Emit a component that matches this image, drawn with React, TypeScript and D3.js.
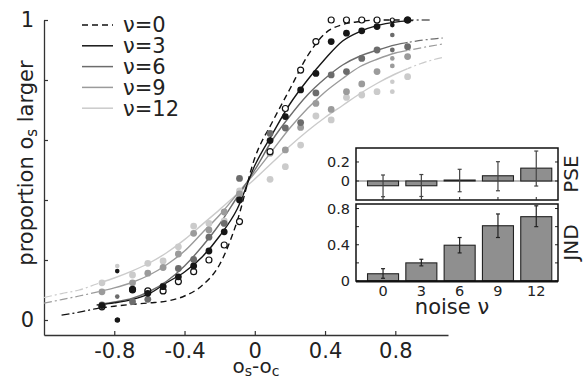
import React, { useEffect, useRef } from 'react';
import * as d3 from 'd3';

// noise levels
const nuLevels = [0, 3, 6, 9, 12];

// stimulus positions (os - oc)
const stimX = [-0.87, -0.783, -0.696, -0.609, -0.522, -0.435, -0.348, -0.261, -0.174, -0.087,
  0.087, 0.174, 0.261, 0.348, 0.435, 0.522, 0.609, 0.696, 0.783, 0.87];

// observed proportions per noise level
const propNu0 = [0.044, 0.0, 0.102, 0.097, 0.097, 0.128, 0.161, 0.2, 0.25, 0.328,
  0.561, 0.705, 0.833, 0.928, 1.0, 1.0, 1.0, 1.0, 1.0, 1.0];
const propNu3 = [0.048, 0.163, 0.1, 0.089, 0.111, 0.144, 0.18, 0.23, 0.294, 0.4,
  0.598, 0.678, 0.767, 0.822, 0.928, 0.956, 0.964, 0.978, 0.983, 1.0];
const propNu6 = [0.05, 0.078, 0.061, 0.069, 0.113, 0.172, 0.202, 0.276, 0.322, 0.472,
  0.622, 0.64, 0.658, 0.757, 0.817, 0.828, 0.872, 0.9, 0.95, 0.911];
const propNu9 = [0.094, 0.0, 0.124, 0.156, 0.175, 0.22, 0.289, 0.3, 0.36, 0.42,
  0.556, 0.567, 0.642, 0.722, 0.702, 0.761, 0.787, 0.828, 0.872, 0.878];
const propNu12 = [0.124, 0.18, 0.15, 0.189, 0.197, 0.244, 0.313, 0.322, 0.33, 0.43,
  0.469, 0.511, 0.583, 0.68, 0.667, 0.742, 0.75, 0.761, 0.794, 0.811];

// a few extra small dots
const extraNu = [6, 9, 12, 3];
const extraX = [0.783, 0.783, 0.783, -0.78];
const extraY = [0.9, 0.847, 0.761, 0.0];

// fitted curves
const curveX = [-1.2, -1.1, -1.0, -0.9, -0.8, -0.7, -0.6, -0.5, -0.4, -0.3, -0.2, -0.1,
  0, 0.1, 0.2, 0.3, 0.4, 0.5, 0.6, 0.7, 0.8, 0.9, 1.0, 1.07];
const fitNu0 = [null, 0.016, 0.026, 0.038, 0.046, 0.052, 0.057, 0.063, 0.08, 0.115, 0.185, 0.33,
  0.54, 0.66, 0.77, 0.88, 0.955, 0.985, 0.995, 1.0, 1.0, 1.0, 1.0, null];
const fitNu3 = [null, null, null, 0.05, 0.057, 0.068, 0.088, 0.125, 0.16, 0.21, 0.28, 0.37,
  0.515, 0.62, 0.72, 0.8, 0.87, 0.93, 0.962, 0.982, 0.993, 0.998, null, null];
const fitNu6 = [null, null, null, 0.05, 0.06, 0.072, 0.095, 0.13, 0.18, 0.245, 0.32, 0.41,
  0.5, 0.6, 0.68, 0.75, 0.805, 0.85, 0.88, 0.9, 0.917, 0.928, 0.936, 0.94];
const fitNu9 = [0.056, 0.068, 0.08, 0.093, 0.107, 0.125, 0.15, 0.185, 0.23, 0.29, 0.35, 0.42,
  0.49, 0.565, 0.64, 0.705, 0.76, 0.805, 0.845, 0.87, 0.89, 0.902, 0.913, 0.92];
const fitNu12 = [0.075, 0.088, 0.1, 0.12, 0.14, 0.163, 0.19, 0.225, 0.268, 0.318, 0.368, 0.42,
  0.47, 0.525, 0.58, 0.63, 0.675, 0.715, 0.755, 0.79, 0.82, 0.845, 0.865, 0.875];

// inset: PSE and JND per noise level
const pseMean = [-0.05, -0.05, 0.01, 0.055, 0.135];
const pseLow = [-0.165, -0.163, -0.113, -0.103, -0.053];
const pseHigh = [0.063, 0.068, 0.123, 0.203, 0.315];
const jndMean = [0.08, 0.2, 0.395, 0.61, 0.71];
const jndLow = [0.03, 0.167, 0.31, 0.48, 0.6];
const jndHigh = [0.136, 0.24, 0.48, 0.74, 0.83];

const FONT = 'DejaVu Sans';

const App = () => {
  const svgRef = useRef<SVGSVGElement>(null);

  useEffect(() => {
    const svg = d3.select(svgRef.current);
    svg.selectAll('*').remove();

    const series = [
      { nu: 0, props: propNu0, fit: fitNu0, color: '#111', dash: '6,4', open: true },
      { nu: 3, props: propNu3, fit: fitNu3, color: '#161616', dash: null, open: false },
      { nu: 6, props: propNu6, fit: fitNu6, color: '#6c6c6c', dash: null, open: false },
      { nu: 9, props: propNu9, fit: fitNu9, color: '#9b9b9b', dash: null, open: false },
      { nu: 12, props: propNu12, fit: fitNu12, color: '#cbcbcb', dash: null, open: false },
    ];

    const x = d3.scaleLinear().domain([-1.2, 1.1]).range([44, 448]);
    const y = d3.scaleLinear().domain([-0.05, 1]).range([335, 20]);

    // clip regions: inside vs outside the tested range
    const defs = svg.append('defs');
    const x0 = x(d3.min(stimX)!), x1 = x(d3.max(stimX)!);
    defs.append('clipPath').attr('id', 'inside')
      .append('rect').attr('x', x0).attr('y', 0).attr('width', x1 - x0).attr('height', 381);
    const outside = defs.append('clipPath').attr('id', 'outside');
    outside.append('rect').attr('x', 0).attr('y', 0).attr('width', x0).attr('height', 381);
    outside.append('rect').attr('x', x1).attr('y', 0).attr('width', 585 - x1).attr('height', 381);

    // axes
    const axisColor = '#333';
    const gy = svg.append('g').attr('transform', `translate(${x(-1.2)},0)`)
      .call(d3.axisLeft(y).tickValues([0, 0.2, 0.4, 0.6, 0.8, 1])
        .tickSizeInner(-4).tickSizeOuter(0).tickPadding(10)
        .tickFormat(d => (d === 0 || d === 1 ? String(d) : '')));
    const gx = svg.append('g').attr('transform', `translate(0,${y(-0.05)})`)
      .call(d3.axisBottom(x).tickValues([-0.8, -0.4, 0, 0.4, 0.8])
        .tickSizeInner(-4).tickSizeOuter(0).tickPadding(8)
        .tickFormat(d => String(d)));
    [gx, gy].forEach(g => {
      g.select('.domain').attr('stroke', axisColor).attr('stroke-width', 1.3);
      g.selectAll('.tick line').attr('stroke', axisColor).attr('stroke-width', 1.2);
      g.selectAll('.tick text').attr('font-family', FONT).attr('font-size', 21).attr('fill', '#222');
    });

    // axis titles
    const xt = svg.append('text').attr('x', 256).attr('y', 373).attr('text-anchor', 'middle')
      .attr('font-family', FONT).attr('font-size', 20).attr('fill', '#222');
    xt.append('tspan').text('o');
    xt.append('tspan').attr('font-size', 14).attr('dy', 3).text('s');
    xt.append('tspan').attr('dy', -3).text('-o');
    xt.append('tspan').attr('font-size', 14).attr('dy', 3).text('c');

    const yt = svg.append('text').attr('transform', 'translate(33,163) rotate(-90)')
      .attr('text-anchor', 'middle').attr('font-family', FONT).attr('font-size', 21).attr('fill', '#222');
    yt.append('tspan').text('proportion o');
    yt.append('tspan').attr('font-size', 15).attr('dy', 4).text('s');
    yt.append('tspan').attr('dy', -4).text(' larger');

    // fitted curves
    const line = d3.line<[number, number | null]>()
      .defined(d => d[1] != null)
      .x(d => x(d[0]))
      .y(d => y(d[1] as number))
      .curve(d3.curveMonotoneX);

    const curves = svg.append('g').attr('fill', 'none');
    [...series].reverse().forEach(s => {
      const pts = curveX.map((cx, i) => [cx, s.fit[i]] as [number, number | null]);
      curves.append('path').attr('d', line(pts)).attr('clip-path', 'url(#outside)')
        .attr('stroke', s.color).attr('stroke-width', 1.2).attr('stroke-dasharray', '8,3,2,3');
      curves.append('path').attr('d', line(pts)).attr('clip-path', 'url(#inside)')
        .attr('stroke', s.color).attr('stroke-width', 1.4)
        .attr('stroke-dasharray', s.dash ?? null);
    });

    // data points
    const small = (i: number) => i === 1 || i === 18;
    const dotOrder = [4, 3, 2, 0, 1];
    dotOrder.forEach(si => {
      const s = series[si];
      svg.append('g').selectAll('circle').data(stimX).enter().append('circle')
        .attr('cx', d => x(d))
        .attr('cy', (d, i) => y(s.props[i]))
        .attr('r', (d, i) => (s.open ? (small(i) ? 2 : 3) : (small(i) ? 2.3 : 3.4)))
        .attr('fill', s.open ? '#fff' : s.color)
        .attr('stroke', s.open ? s.color : 'none')
        .attr('stroke-width', s.open ? 1.2 : 0);
    });
    svg.append('g').selectAll('circle').data(extraX).enter().append('circle')
      .attr('cx', d => x(d))
      .attr('cy', (d, i) => y(extraY[i]))
      .attr('r', 2.4)
      .attr('fill', (d, i) => series.find(s => s.nu === extraNu[i])!.color);

    // legend
    const leg = svg.append('g');
    series.forEach((s, i) => {
      const ly = 25 + i * 20.8;
      leg.append('line').attr('x1', 82).attr('x2', 113).attr('y1', ly).attr('y2', ly)
        .attr('stroke', s.color).attr('stroke-width', 1.5)
        .attr('stroke-dasharray', s.dash ?? null);
      leg.append('text').attr('x', 123).attr('y', ly).attr('dy', '0.35em')
        .attr('font-family', FONT).attr('font-size', 21).attr('fill', '#222')
        .text(`ν=${s.nu}`);
    });

    // ---- inset ----
    const ix0 = 356, ix1 = 558;
    const xb = d3.scaleBand<number>().domain(nuLevels).range([363.7, 555.6])
      .paddingInner(0.19).paddingOuter(0.1);
    const yPse = d3.scaleLinear().domain([-0.2, 0.347]).range([200, 148]);
    const yJnd = d3.scaleLinear().domain([0, 0.85]).range([281, 204]);

    const inset = svg.append('g');
    const panels = [
      { yS: yPse, mean: pseMean, lo: pseLow, hi: pseHigh, ticks: [0, 0.2], labelTicks: [0, 0.2], name: 'PSE', errColor: '#444' },
      { yS: yJnd, mean: jndMean, lo: jndLow, hi: jndHigh, ticks: [0, 0.2, 0.4, 0.6, 0.8], labelTicks: [0, 0.4, 0.8], name: 'JND', errColor: '#222' },
    ];

    panels.forEach((p, pi) => {
      const [yb, yt2] = p.yS.range();
      inset.append('rect').attr('x', ix0).attr('y', yt2).attr('width', ix1 - ix0).attr('height', yb - yt2)
        .attr('fill', '#fff');

      if (pi === 0) {
        inset.append('line').attr('x1', ix0).attr('x2', ix1).attr('y1', p.yS(0)).attr('y2', p.yS(0))
          .attr('stroke', '#777').attr('stroke-width', 1.2);
      }

      // bars
      inset.append('g').selectAll('rect').data(nuLevels).enter().append('rect')
        .attr('x', d => xb(d)!)
        .attr('width', xb.bandwidth())
        .attr('y', (d, i) => p.yS(Math.max(0, p.mean[i])))
        .attr('height', (d, i) => Math.abs(p.yS(p.mean[i]) - p.yS(0)))
        .attr('fill', '#8f8f8f').attr('stroke', '#222').attr('stroke-width', 1.1);

      // error bars
      const eg = inset.append('g').attr('stroke', p.errColor).attr('stroke-width', 1.2);
      nuLevels.forEach((nu, i) => {
        const cx = xb(nu)! + xb.bandwidth() / 2;
        eg.append('line').attr('x1', cx).attr('x2', cx).attr('y1', p.yS(p.lo[i])).attr('y2', p.yS(p.hi[i]));
        [p.lo[i], p.hi[i]].forEach(v => {
          eg.append('line').attr('x1', cx - 2).attr('x2', cx + 2).attr('y1', p.yS(v)).attr('y2', p.yS(v));
        });
      });

      // ticks both sides
      p.ticks.forEach(t => {
        inset.append('line').attr('x1', ix0).attr('x2', ix0 + 3).attr('y1', p.yS(t)).attr('y2', p.yS(t))
          .attr('stroke', '#222');
        inset.append('line').attr('x1', ix1).attr('x2', ix1 - 3).attr('y1', p.yS(t)).attr('y2', p.yS(t))
          .attr('stroke', '#222');
      });
      p.labelTicks.forEach(t => {
        inset.append('text').attr('x', ix0 - 6).attr('y', p.yS(t)).attr('dy', '0.35em')
          .attr('text-anchor', 'end').attr('font-family', FONT).attr('font-size', 14.5).attr('fill', '#222')
          .text(String(t));
      });

      // frame
      inset.append('rect').attr('x', ix0).attr('y', yt2).attr('width', ix1 - ix0).attr('height', yb - yt2)
        .attr('fill', 'none').attr('stroke', '#111').attr('stroke-width', 1.5);

      const cy = (yb + yt2) / 2;
      inset.append('text').attr('transform', `translate(578,${cy}) rotate(-90)`)
        .attr('text-anchor', 'middle').attr('font-family', FONT).attr('font-size', 20).attr('fill', '#222')
        .text(p.name);
    });

    // small ticks along the bottom of the PSE box
    nuLevels.forEach(nu => {
      const cx = xb(nu)! + xb.bandwidth() / 2;
      inset.append('line').attr('x1', cx).attr('x2', cx).attr('y1', 200).attr('y2', 197).attr('stroke', '#222');
    });
    inset.append('line').attr('x1', ix0).attr('x2', ix1).attr('y1', 281.5).attr('y2', 281.5)
      .attr('stroke', '#111').attr('stroke-width', 2);

    // bar labels
    inset.append('g').selectAll('text').data(nuLevels).enter().append('text')
      .attr('x', d => xb(d)! + xb.bandwidth() / 2).attr('y', 291).attr('dy', '0.35em')
      .attr('text-anchor', 'middle').attr('font-family', FONT).attr('font-size', 14.5).attr('fill', '#222')
      .text(d => String(d));
    inset.append('text').attr('x', 452).attr('y', 314).attr('text-anchor', 'middle')
      .attr('font-family', FONT).attr('font-size', 21).attr('fill', '#222').text('noise ν');
  }, []);

  return (
    <svg ref={svgRef} width={585} height={381}
      style={{ position: 'absolute', left: 0, top: 0, background: '#fff' }} />
  );
};

export default App;
